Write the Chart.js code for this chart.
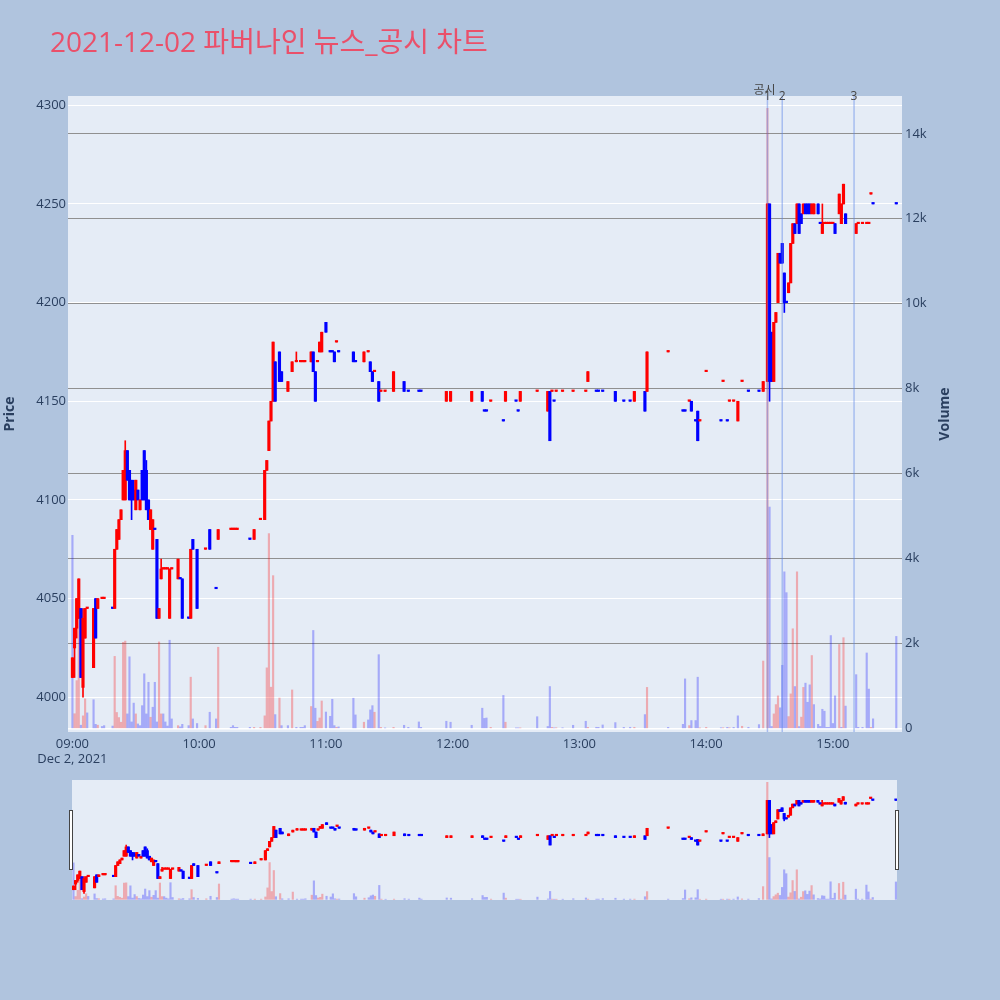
<!DOCTYPE html>
<html>
<head>
<meta charset="utf-8">
<title>2021-12-02 파버나인 뉴스_공시 차트</title>
<script src="https://cdn.jsdelivr.net/npm/chart.js@4.4.1/dist/chart.umd.min.js"></script>
<style>
    html, body { margin: 0; padding: 0; background: #b0c4de; }
    #wrap { position: relative; width: 1000px; height: 1000px; }
    #main { position: absolute; left: 0; top: 0; }
    #slider { position: absolute; left: 66px; top: 780px; }
</style>
</head>
<body>
<div id="wrap">
    <canvas id="main" width="1000" height="780"></canvas>
    <canvas id="slider" width="838" height="120"></canvas>
</div>
<script>
// minute candles (one entry per traded minute)
const times = [
    '09:00','09:01','09:02','09:03','09:04','09:05','09:06','09:07','09:10','09:11','09:12','09:14','09:15','09:19',
    '09:20','09:21','09:22','09:23','09:24','09:25','09:26','09:27','09:28','09:29',
    '09:30','09:31','09:32','09:33','09:34','09:35','09:36','09:37','09:38','09:39',
    '09:40','09:41','09:42','09:43','09:44','09:45','09:46','09:47','09:50','09:51','09:52','09:55','09:56','09:57','09:59',
    '10:03','10:05','10:08','10:09','10:15','10:16','10:17','10:18','10:24','10:26','10:29',
    '10:31','10:32','10:33','10:34','10:35','10:36','10:38','10:39','10:42','10:44','10:46',
    '10:48','10:49','10:50','10:53','10:54','10:55','10:56','10:57','10:58',
    '11:00','11:02','11:03','11:04','11:05','11:06','11:13','11:14','11:18','11:20','11:21','11:22','11:23',
    '11:25','11:26','11:28','11:32','11:37','11:39','11:44','11:45','11:57','11:59',
    '12:09','12:14','12:15','12:16','12:18','12:24','12:25','12:30','12:31','12:32','12:40','12:45','12:46',
    '12:47','12:48','12:49','12:52','12:57',
    '13:03','13:04','13:08','13:09','13:11','13:17','13:21','13:24','13:26','13:31','13:32','13:42','13:49',
    '13:50','13:52','13:53','13:55','13:56','13:57',
    '14:00','14:07','14:08','14:10','14:11','14:13','14:15','14:17','14:20','14:25','14:27',
    '14:29','14:30','14:31','14:32','14:33','14:34','14:35','14:36','14:37','14:38','14:39','14:40','14:41',
    '14:42','14:43','14:44','14:45','14:46','14:47','14:48','14:49','14:50','14:51',
    '14:53','14:54','14:55','14:56','14:57','14:58','14:59',
    '15:00','15:01','15:03','15:04','15:05','15:06','15:11','15:12','15:14','15:16','15:17','15:18','15:19','15:30'
]
const opens = [
    4010,4025,4035,4040,4045,4005,4030,4045,4015,4050,4045,4050,4050,4045,
    4045,4075,4080,4090,4100,4100,4125,4115,4110,4105,
    4095,4105,4095,4115,4125,4115,4100,4085,4075,4085,
    4080,4040,4060,4065,4065,4065,4040,4065,4060,4060,4060,4040,4040,4080,4075,
    4075,4085,4055,4080,4085,4085,4085,4085,4080,4080,4090,
    4090,4115,4125,4140,4150,4170,4175,4165,4155,4165,4170,
    4170,4170,4170,4170,4175,4165,4170,4175,4175,
    4190,4175,4175,4175,4180,4175,4175,4170,4170,4175,4170,4165,4165,
    4160,4155,4155,4155,4160,4155,4155,4155,4150,4150,
    4150,4155,4145,4145,4150,4140,4150,4150,4145,4150,4155,4145,4155,
    4155,4150,4155,4155,4155,
    4155,4160,4155,4155,4155,4155,4150,4150,4150,4155,4155,4175,4145,
    4145,4150,4150,4140,4145,4140,
    4165,4140,4160,4140,4150,4150,4140,4160,4155,4155,4155,
    4160,4250,4185,4160,4190,4200,4225,4230,4215,4200,4205,4210,4230,
    4240,4240,4250,4245,4245,4250,4250,4250,4245,4245,
    4250,4240,4235,4240,4240,4240,4240,
    4240,4240,4245,4240,4250,4245,4235,4240,4240,4240,4240,4255,4250,4250
]
const highs = [
    4020,4035,4050,4060,4045,4045,4045,4045,4045,4050,4050,4050,4050,4045,
    4075,4085,4090,4095,4115,4130,4125,4115,4110,4110,
    4110,4105,4100,4115,4125,4120,4100,4095,4090,4085,
    4080,4045,4070,4065,4065,4065,4065,4065,4070,4060,4060,4040,4075,4080,4075,
    4075,4085,4055,4085,4085,4085,4085,4085,4080,4085,4090,
    4115,4120,4140,4150,4180,4170,4175,4165,4160,4170,4175,
    4170,4170,4170,4175,4175,4165,4170,4180,4185,
    4190,4175,4175,4175,4180,4175,4175,4170,4175,4175,4170,4165,4165,
    4160,4155,4155,4165,4160,4155,4155,4155,4155,4155,
    4155,4155,4145,4145,4150,4140,4155,4150,4145,4155,4155,4155,4155,
    4155,4150,4155,4155,4155,
    4155,4165,4155,4155,4155,4155,4150,4150,4155,4155,4175,4175,4145,
    4145,4150,4150,4140,4145,4140,
    4165,4140,4160,4140,4150,4150,4150,4160,4155,4155,4160,
    4250,4250,4185,4190,4195,4225,4225,4230,4215,4200,4210,4230,4240,
    4240,4250,4250,4245,4250,4250,4250,4250,4250,4250,
    4250,4240,4250,4240,4240,4240,4240,
    4240,4240,4255,4250,4260,4245,4240,4240,4240,4240,4240,4255,4250,4250
]
const lows = [
    4010,4010,4030,4040,4010,4000,4030,4045,4015,4030,4045,4050,4050,4045,
    4045,4075,4080,4090,4100,4100,4110,4100,4090,4100,
    4095,4100,4095,4100,4100,4095,4090,4085,4075,4085,
    4040,4040,4060,4065,4065,4065,4040,4065,4060,4060,4040,4040,4040,4075,4045,
    4075,4075,4055,4080,4085,4085,4085,4085,4080,4080,4090,
    4090,4115,4125,4140,4150,4150,4160,4160,4155,4165,4170,
    4170,4170,4170,4170,4165,4150,4170,4175,4175,
    4185,4175,4175,4170,4180,4175,4170,4170,4170,4175,4165,4160,4165,
    4150,4155,4155,4155,4155,4155,4155,4155,4150,4150,
    4150,4150,4145,4145,4150,4140,4150,4150,4145,4150,4155,4145,4130,
    4155,4150,4155,4155,4155,
    4155,4160,4155,4155,4155,4150,4150,4150,4150,4145,4155,4175,4145,
    4145,4150,4145,4140,4130,4140,
    4165,4140,4160,4140,4150,4150,4140,4160,4155,4155,4155,
    4160,4150,4160,4160,4190,4200,4220,4220,4195,4200,4205,4210,4230,
    4235,4240,4235,4240,4245,4245,4245,4245,4245,4245,
    4245,4240,4235,4240,4240,4240,4240,
    4240,4235,4245,4240,4250,4240,4235,4240,4240,4240,4240,4255,4250,4250
]
const closes = [
    4020,4035,4050,4060,4010,4040,4045,4045,4045,4030,4050,4050,4050,4045,
    4075,4085,4090,4095,4115,4125,4110,4100,4100,4100,
    4110,4100,4100,4100,4100,4095,4090,4095,4090,4085,
    4040,4045,4065,4065,4065,4065,4065,4065,4070,4060,4040,4040,4075,4075,4045,
    4075,4075,4055,4085,4085,4085,4085,4085,4080,4085,4090,
    4115,4120,4140,4150,4180,4150,4160,4160,4160,4170,4170,
    4170,4170,4170,4175,4165,4150,4170,4180,4185,
    4185,4175,4175,4170,4180,4175,4170,4170,4175,4175,4165,4160,4165,
    4150,4155,4155,4165,4155,4155,4155,4155,4155,4155,
    4155,4150,4145,4145,4150,4140,4155,4150,4145,4155,4155,4155,4130,
    4155,4150,4155,4155,4155,
    4155,4165,4155,4155,4155,4150,4150,4150,4155,4145,4175,4175,4145,
    4145,4150,4145,4140,4130,4140,
    4165,4140,4160,4140,4150,4150,4150,4160,4155,4155,4160,
    4250,4160,4160,4190,4195,4225,4220,4220,4200,4200,4210,4230,4240,
    4235,4250,4235,4240,4250,4245,4245,4245,4250,4250,
    4245,4240,4240,4240,4240,4240,4240,
    4240,4235,4255,4250,4260,4240,4240,4240,4240,4240,4240,4255,4250,4250
]
const volumes = [
    4550,350,1130,3500,80,300,700,370,680,100,80,50,70,60,
    1700,380,260,150,2030,2060,346,1690,157,600,
    346,110,70,540,1290,346,1090,267,503,1090,
    157,2040,346,346,157,60,2080,228,70,40,100,70,1210,228,120,
    70,385,228,1915,30,70,30,30,30,30,30,
    300,1430,4590,975,3600,330,720,70,70,910,30,
    30,30,70,520,2310,480,170,250,650,
    390,290,690,70,30,40,715,322,150,204,440,540,385,
    1740,30,16,30,78,30,157,30,173,150,
    78,480,240,250,30,780,150,16,16,16,280,50,990,
    30,16,20,20,78,
    173,30,31,30,86,141,30,31,31,330,970,30,100,
    1170,71,190,190,1210,16,
    30,20,20,30,20,30,300,55,31,94,1590,
    14600,5215,50,346,565,770,490,1490,3690,3200,283,817,2350,
    990,3690,48,270,970,1070,620,1030,1720,565,
    100,50,455,410,30,30,2190,
    120,770,1980,30,2140,530,1270,30,30,1780,930,30,230,2170
]

const xTickLabels = ['09:00', '10:00', '11:00', '12:00', '13:00', '14:00', '15:00']
const priceTicks = [4000, 4050, 4100, 4150, 4200, 4250, 4300]
const volumeTicks = [0, 2000, 4000, 6000, 8000, 10000, 12000, 14000]

// disclosure (공시) times marked with vertical lines
const noticeTimes = ['14:29', '14:36', '15:10']
const noticeLabels = ['1', '2', '3']

const chartTitle = '2021-12-02 파버나인 뉴스_공시 차트'

const RED = '#ff0000'
const BLUE = '#0000ff'
const RED_VOL = 'rgba(255, 0, 0, 0.28)'
const BLUE_VOL = 'rgba(0, 0, 255, 0.28)'
const FONT = "'Open Sans', 'Noto Sans CJK KR', sans-serif"
const TEXT_COLOR = '#2a3f5f'

function toMinute(t) {
    let [h, m] = t.split(':').map(Number)
    return (h - 9) * 60 + m
}

const xs = times.map(toMinute)

// same rule as plotly: a doji takes its colour from the move against the previous close
let rising = true
const candleUp = closes.map(function(c, i) {
    let o = opens[i]
    if (c === o) {
        if (i > 0 && c !== closes[i - 1]) rising = c > closes[i - 1]
    } else {
        rising = c > o
    }
    return rising
})
const volumeUp = closes.map((c, i) => i > 0 && c > closes[i - 1])

function buildDatasets(bodyWidth) {
    return [
        {
            label: 'body',
            data: xs.map((x, i) => ({x: x, y: [opens[i], closes[i]]})),
            backgroundColor: candleUp.map(u => u ? RED : BLUE),
            barThickness: bodyWidth,
            minBarLength: 1.5,
            grouped: false,
            yAxisID: 'y',
            order: 0
        },
        {
            label: 'wick',
            data: xs.map((x, i) => ({x: x, y: [lows[i], highs[i]]})),
            backgroundColor: candleUp.map(u => u ? RED : BLUE),
            barThickness: 1,
            minBarLength: 1,
            grouped: false,
            yAxisID: 'y',
            order: 1
        },
        {
            label: 'Volume',
            data: xs.map((x, i) => ({x: x, y: volumes[i]})),
            backgroundColor: volumeUp.map(u => u ? RED_VOL : BLUE_VOL),
            barThickness: 1.5,
            grouped: false,
            yAxisID: 'yv',
            order: 2
        }
    ]
}

const mainDecor = {
    id: 'mainDecor',
    beforeDraw(chart) {
        let {ctx, chartArea: a} = chart
        ctx.save()
        ctx.fillStyle = '#e5ecf6'
        ctx.fillRect(a.left, a.top, a.right - a.left, a.bottom - a.top)
        ctx.restore()
    },
    afterDatasetsDraw(chart) {
        let {ctx, chartArea: a, scales} = chart
        ctx.save()
        ctx.strokeStyle = 'rgba(90, 130, 230, 0.45)'
        ctx.lineWidth = 1.5
        noticeTimes.forEach(function(t) {
            let px = scales.x.getPixelForValue(toMinute(t))
            ctx.beginPath()
            ctx.moveTo(px, a.top)
            ctx.lineTo(px, a.bottom)
            ctx.stroke()
        })
        ctx.fillStyle = '#444'
        ctx.font = '12px ' + FONT
        ctx.textAlign = 'center'
        ctx.textBaseline = 'middle'
        let first = scales.x.getPixelForValue(toMinute(noticeTimes[0]))
        ctx.fillText('공시', first - 3, a.top - 5)
        noticeTimes.forEach(function(t, i) {
            let px = scales.x.getPixelForValue(toMinute(t))
            ctx.fillText(noticeLabels[i], px, a.top + 1)
        })
        ctx.restore()
    },
    afterDraw(chart) {
        let ctx = chart.ctx
        ctx.save()
        ctx.fillStyle = 'rgb(234, 80, 106)'
        ctx.font = '28px ' + FONT
        ctx.textAlign = 'left'
        ctx.textBaseline = 'alphabetic'
        ctx.fillText(chartTitle, 50, 52)
        // right axis title, turned like the left one
        ctx.translate(945, 414)
        ctx.rotate(-Math.PI / 2)
        ctx.fillStyle = TEXT_COLOR
        ctx.font = 'bold 14px ' + FONT
        ctx.textAlign = 'center'
        ctx.textBaseline = 'middle'
        ctx.fillText('Volume', 0, 0)
        ctx.restore()
    }
}

const tickFont = {family: FONT, size: 13}

new Chart(document.getElementById('main'), {
    type: 'bar',
    data: {datasets: buildDatasets(2.5)},
    options: {
        responsive: false,
        animation: false,
        events: [],
        layout: {padding: {top: 96, left: 0, right: 0, bottom: 0}},
        plugins: {legend: {display: false}, tooltip: {enabled: false}},
        scales: {
            x: {
                type: 'linear',
                min: -2.1,
                max: 392.7,
                offset: false,
                grid: {display: false},
                border: {display: false},
                afterBuildTicks: s => { s.ticks = xTickLabels.map(t => ({value: toMinute(t)})) },
                afterFit: s => { s.height = 48 },
                ticks: {
                    padding: -4,
                    maxRotation: 0,
                    autoSkip: false,
                    font: tickFont,
                    color: TEXT_COLOR,
                    callback: (v, i) => i === 0 ? [xTickLabels[i], 'Dec 2, 2021'] : xTickLabels[i]
                }
            },
            y: {
                position: 'left',
                min: 3982.4,
                max: 4304.7,
                grid: {color: '#ffffff', drawTicks: false},
                border: {display: false},
                afterBuildTicks: s => { s.ticks = priceTicks.map(v => ({value: v})) },
                afterFit: s => { s.width = 68 },
                ticks: {padding: 2, font: tickFont, color: TEXT_COLOR, callback: v => String(v)},
                title: {
                    display: true,
                    text: 'Price',
                    padding: {top: 2, bottom: 0},
                    color: TEXT_COLOR,
                    font: {family: FONT, size: 14, weight: 'bold'}
                }
            },
            yv: {
                position: 'right',
                min: -80,
                max: 14890,
                grid: {
                    color: c => c.tick && c.tick.value === 0 ? '#ffffff' : '#909090',
                    lineWidth: c => c.tick && c.tick.value === 0 ? 1.5 : 1,
                    drawTicks: false
                },
                border: {display: false},
                afterBuildTicks: s => { s.ticks = volumeTicks.map(v => ({value: v})) },
                afterFit: s => { s.width = 98 },
                ticks: {
                    padding: 3,
                    font: tickFont,
                    color: TEXT_COLOR,
                    callback: v => v === 0 ? '0' : (v / 1000) + 'k'
                }
            }
        }
    },
    plugins: [mainDecor]
})

const sliderDecor = {
    id: 'sliderDecor',
    beforeDraw(chart) {
        let {ctx, chartArea: a} = chart
        ctx.save()
        ctx.fillStyle = '#e5ecf6'
        ctx.fillRect(a.left, a.top, a.right - a.left, a.bottom - a.top)
        ctx.restore()
    },
    afterDraw(chart) {
        let {ctx, chartArea: a} = chart
        ctx.save()
        ctx.fillStyle = '#ffffff'
        ctx.strokeStyle = '#444'
        ctx.lineWidth = 1
        ;[a.left - 3, a.right - 2].forEach(function(hx) {
            ctx.fillRect(hx, 30, 4, 60)
            ctx.strokeRect(hx + 0.5, 30.5, 3, 59)
        })
        ctx.restore()
    }
}

// range slider underneath, same data at a smaller scale
new Chart(document.getElementById('slider'), {
    type: 'bar',
    data: {datasets: buildDatasets(2.5)},
    options: {
        responsive: false,
        animation: false,
        events: [],
        layout: {padding: {top: 0, left: 6, right: 7, bottom: 0}},
        plugins: {legend: {display: false}, tooltip: {enabled: false}},
        scales: {
            x: {type: 'linear', min: -0.7, max: 390.5, offset: false, display: false},
            y: {min: 3982.4, max: 4304.7, display: false},
            yv: {min: -80, max: 14890, display: false}
        }
    },
    plugins: [sliderDecor]
})
</script>
</body>
</html>
